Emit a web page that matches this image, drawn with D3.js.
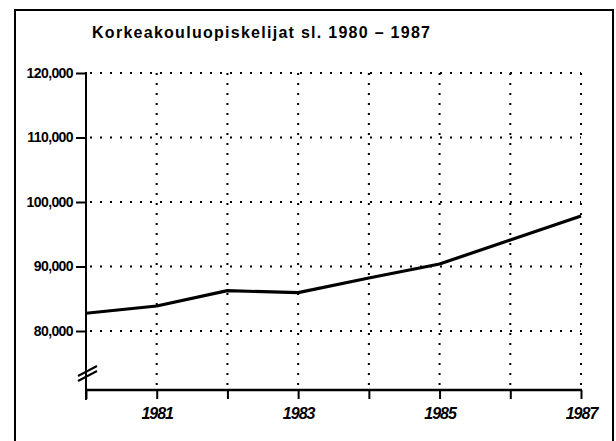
<!DOCTYPE html>
<html><head><meta charset="utf-8">
<script src="https://cdn.jsdelivr.net/npm/d3@7"></script>
<style>body{margin:0;background:#fff}svg{display:block}</style>
</head><body>
<script>
const title = "Korkeakouluopiskelijat sl. 1980 – 1987";
const years = [1980, 1981, 1982, 1983, 1984, 1985, 1986, 1987];
const students = [82750, 83880, 86250, 85940, 88220, 90390, 94110, 97830];
const yTicks = [80000, 90000, 100000, 110000, 120000];
const xLabelYears = [1981, 1983, 1985, 1987];

const W = 616, H = 441;
const svg = d3.select("body").append("svg").attr("width", W).attr("height", H);

// outer frame
svg.append("rect").attr("x", 15).attr("y", 10).attr("width", 598).attr("height", 460)
  .attr("fill", "none").attr("stroke", "#000").attr("stroke-width", 2);

svg.append("text").attr("x", 92).attr("y", 38)
  .attr("font-family", "Liberation Sans, Arial, sans-serif").attr("font-weight", "bold")
  .attr("font-size", 16).attr("textLength", 338).attr("lengthAdjust", "spacing")
  .text(title);

const plotTop = 73, plotBottom = 390, plotLeft = 86, plotRight = 581;
const x = d3.scaleLinear().domain([1980, 1987]).range([plotLeft, plotRight]);
const y = d3.scaleLinear().domain([80000, 120000]).range([331, plotTop]);

// grid
const g = svg.append("g");
g.selectAll("line.h").data(yTicks).join("line")
  .attr("x1", plotLeft + 4).attr("x2", plotRight).attr("y1", d => y(d)).attr("y2", d => y(d))
  .attr("stroke", "#000").attr("stroke-width", 2).attr("stroke-dasharray", "2,8");
g.selectAll("line.v").data(years.slice(1)).join("line")
  .attr("x1", d => x(d)).attr("x2", d => x(d)).attr("y1", plotTop).attr("y2", plotBottom - 2)
  .attr("stroke", "#000").attr("stroke-width", 2).attr("stroke-dasharray", "2,8");

// y axis
const yAxis = d3.axisLeft(y).tickValues(yTicks).tickSize(10).tickPadding(3)
  .tickFormat(d3.format(","));
const ya = svg.append("g").attr("transform", `translate(${plotLeft},0)`).call(yAxis);
ya.select(".domain").remove();
ya.selectAll(".tick line").attr("stroke-width", 2);
ya.selectAll("text").attr("font-family", "Liberation Sans, Arial, sans-serif")
  .attr("font-weight", "bold").attr("font-size", 14).attr("fill", "#000")
  .attr("letter-spacing", -0.6);
svg.append("line").attr("x1", plotLeft).attr("x2", plotLeft).attr("y1", plotTop - 1).attr("y2", plotBottom + 10)
  .attr("stroke", "#000").attr("stroke-width", 2);

// axis break marks
[0, 5].forEach(o => {
  svg.append("line").attr("x1", 78).attr("y1", 376 + o).attr("x2", 97).attr("y2", 366 + o)
    .attr("stroke", "#000").attr("stroke-width", 2);
});

// x axis
const xAxis = d3.axisBottom(x).tickValues(years).tickSize(9)
  .tickFormat(d => xLabelYears.includes(d) ? d : "").tickPadding(9);
const xa = svg.append("g").attr("transform", `translate(0,${plotBottom})`).call(xAxis);
xa.select(".domain").remove();
xa.selectAll(".tick line").attr("stroke-width", 2);
xa.selectAll("text").attr("font-family", "Liberation Sans, Arial, sans-serif")
  .attr("font-weight", "bold").attr("font-style", "italic").attr("font-size", 16).attr("fill", "#000")
  .attr("letter-spacing", -1);
svg.append("line").attr("x1", plotLeft).attr("x2", plotRight + 1).attr("y1", plotBottom).attr("y2", plotBottom)
  .attr("stroke", "#000").attr("stroke-width", 2.5);

// data line
const line = d3.line().x((d, i) => x(years[i])).y(d => y(d));
svg.append("path").datum(students).attr("d", line)
  .attr("fill", "none").attr("stroke", "#000").attr("stroke-width", 3.2).attr("stroke-linejoin", "round");
</script>
</body></html>
